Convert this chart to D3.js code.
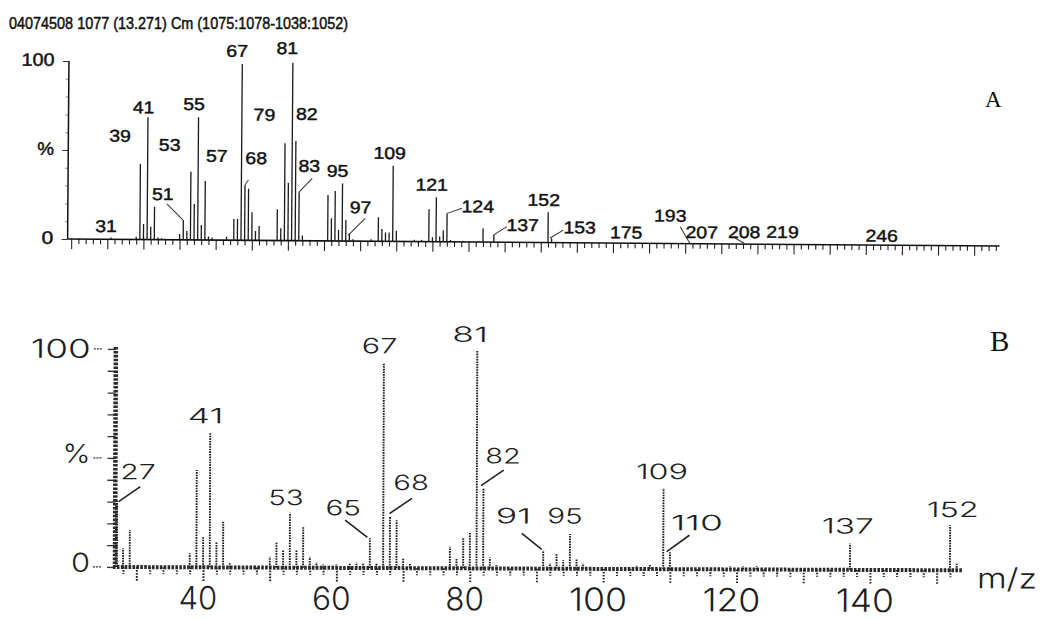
<!DOCTYPE html>
<html><head><meta charset="utf-8">
<script src="https://cdn.jsdelivr.net/npm/d3@7"></script>
<style>body{margin:0;background:#fff}svg{display:block}</style>
</head><body>
<svg id="c" width="1042" height="619"></svg>
<script>
// ---------------- DATA ----------------
const titleA = "04074508 1077 (13.271) Cm (1075:1078-1038:1052)";
const massesA = [31,38,39,40,41,42,43,44,45,50,51,52,53,54,55,56,57,58,59,63,65,66,67,68,69,70,71,72,77,78,79,80,81,82,83,84,91,92,93,94,95,96,97,98,103,105,106,107,108,109,110,115,117,119,120,121,122,123,124,125,134,137,152,153];
const intensA = [1,1.5,42.4,8.8,68.7,7.3,18.5,1.2,0.8,3.3,11.2,5,38.3,20.2,68.9,8.4,33.2,2,1.5,2,11.9,11.9,99,31.1,29,15.8,5.3,8.1,17.6,6.9,54.7,32.5,100,56,27.2,3,25.8,12.8,28.1,6.2,32.4,11.8,4.3,1,1.2,13.5,7,5,5,42.5,6,1,1,18.2,2.5,25,3,6.5,16,1,7.8,4,17,2.5];
const labelsA = [31,39,41,51,53,55,57,67,68,79,81,82,83,95,97,109,121,124,137,152,153,175,193,207,208,219,246];
const yTickTextA = ["100","%","0"];

const massesB = [27,28,29,38,39,40,41,42,43,44,50,51,52,53,54,55,56,57,58,60,62,63,64,65,66,67,68,69,70,71,77,78,79,80,81,82,83,84,91,92,93,94,95,96,97,105,107,109,110,119,121,123,137,152,153];
const intensB = [30.3,8.6,17,6.4,44.6,14,61.5,11.8,21,2,5,11.9,8,25.2,8,18.8,5,2.5,1.5,1.5,2,2.5,2,13.6,2,94.2,23.5,22,4.5,2,9.9,4.7,14.2,16.5,100,36.7,5,1.5,8.5,2.5,6.7,3.9,15.9,4.4,2.5,1.5,2,37.1,7.8,1.5,1.5,1.5,12.1,20.6,3];
const labelsB = [27,41,53,65,67,68,81,82,91,95,109,110,137,152];
const xTickLabelsB = [40,60,80,100,120,140];
const yTickTextB = ["100","%","0"];
const axisNameB = "m/z";
const panelNames = ["A","B"];

// ---------------- LAYOUT (label offsets) ----------------
const labelLayoutA = {31:[-5,4.1],39:[-20.5,54.9],41:[-4.5,70.9],51:[-20.7,22.3],53:[-21.4,50],55:[-4.6,73],57:[11.4,44],
  67:[-5.2,103.1],68:[11,42.9],79:[-20.8,67.3],81:[-5.7,104.8],82:[10.7,67.9],83:[10.1,38.8],95:[-5.1,36.1],97:[11,15.7],
  109:[-3.6,46.3],121:[-4.7,28.7],124:[30.7,16.7],137:[28.7,6.4],152:[-4.5,20.6],153:[28,5.3],175:[-5,2.7],193:[-26,12.3],
  207:[-44.9,3.1],208:[-6.2,3.4],219:[-7.5,3.6],246:[-5.8,1.9]};
const leaderLayoutA = {51:[-16.5,20.1,-0.5,11.2],68:[3.4,33.9,0,31.1],83:[13,35.1,-0.4,27.2],97:[15.7,12.9,-1,3.4],
  124:[14.9,18.9,0.2,16],137:[12.9,8.8,-0.5,4],153:[11.7,7.1,-1.6,2.6],193:[-16,9.5,-6,0],208:[-17.2,4.1,-3.5,-0.5]};
const labelLayoutB = {27:[21.2,40.3],41:[-4.7,66.1],53:[-3.9,28.7],65:[-26.8,24.1],67:[-4.4,98.5],68:[21,35.8],
  81:[-7.3,103.9],82:[19.4,48.2],91:[-29.9,20.7],95:[-5.1,20.8],109:[-1.6,41.3],110:[26.8,17.9],137:[-2.4,16.7],152:[2.6,24.4]};
const leaderLayoutB = {27:[23.7,36.9,2,30],65:[-24.8,21.9,-2.5,14],68:[21.9,32,-0.5,25],82:[20.2,45.1,-2.4,38],
  91:[-21.5,16.1,-1.5,8.8],110:[19.4,15.6,-3.2,8]};

// ---------------- DRAW ----------------
const svg = d3.select("#c");
svg.append("rect").attr("width",1042).attr("height",619).attr("fill","#fff");

function txt(g, s, x, y, o){
  const len = o.len;
  const x0 = o.anchor==="end" ? x-len : (o.anchor==="start" ? x : x-len/2);
  const t = g.append("text").attr("x",x0).attr("y",y)
    .attr("font-family",o.family).attr("font-size",o.size).attr("fill",o.fill||"#111")
    .attr("textLength",len).attr("lengthAdjust","spacingAndGlyphs").text(s);
  if(o.weight) t.attr("font-weight",o.weight);
  if(o.stroke) t.attr("stroke",o.fill||"#111").attr("stroke-width",o.stroke);
  return t;
}

// Panel A
const xA = d3.scaleLinear([19,277],[67.6,999.5]);
const yA = d3.scaleLinear([0,100],[239,61]);
const fA = "'Liberation Sans', Arial, sans-serif";

txt(svg, titleA, 9, 29, {family:fA,size:17,len:339,anchor:"start",stroke:0.5});

const gA = svg.append("g").attr("transform","rotate(0.431,68,239)");
// x ticks
gA.append("g").attr("transform",`translate(0,${yA(0)})`)
  .call(d3.axisBottom(xA).tickValues(d3.range(20,277,2).filter(m=>m%10!==0)).tickSize(5).tickFormat(""))
  .call(g=>g.select(".domain").remove());
gA.append("g").attr("transform",`translate(0,${yA(0)})`)
  .call(d3.axisBottom(xA).tickValues(d3.range(20,277,10)).tickSize(10).tickFormat(""))
  .call(g=>g.select(".domain").remove());
gA.selectAll(".tick line").attr("stroke","#222").attr("stroke-width",1.1);
gA.append("line").attr("x1",xA(19)).attr("x2",xA(277)).attr("y1",yA(0)).attr("y2",yA(0)).attr("stroke","#111").attr("stroke-width",1.6);
// y axis
const yax = gA.append("g").attr("transform",`translate(${xA(19)},0)`)
  .call(d3.axisLeft(yA).tickValues(d3.range(10,100,10)).tickSize(3).tickFormat(""));
yax.select(".domain").remove();
yax.selectAll(".tick line").attr("stroke","#888");
const yax2 = gA.append("g").attr("transform",`translate(${xA(19)},0)`)
  .call(d3.axisLeft(yA).tickValues([0,50,100]).tickSize(6).tickFormat(""));
yax2.select(".domain").remove();
yax2.selectAll(".tick line").attr("stroke","#333");
gA.append("line").attr("x1",xA(19)).attr("x2",xA(19)).attr("y1",yA(100)).attr("y2",yA(0)).attr("stroke","#111").attr("stroke-width",1.5);
[[100,33],[50,16.7],[0,11.7]].forEach((d,i)=>{
  txt(gA, yTickTextA[i], 53.3, yA(d[0])+5, {family:fA,size:18,len:d[1],anchor:"end",stroke:0.45});
});
// bars
gA.selectAll("line.barA").data(massesA.map((m,i)=>[m,intensA[i]])).join("line").attr("class","barA")
  .attr("x1",d=>xA(d[0])).attr("x2",d=>xA(d[0])).attr("y1",yA(0)).attr("y2",d=>yA(d[1]))
  .attr("stroke","#1a1a1a").attr("stroke-width",1.3);
// leaders
Object.entries(leaderLayoutA).forEach(([m,l])=>{
  m=+m;
  gA.append("line").attr("x1",xA(m)+l[0]).attr("y1",yA(l[1])).attr("x2",xA(m)+l[2]).attr("y2",yA(l[3]))
    .attr("stroke","#333").attr("stroke-width",1);
});
// labels
labelsA.forEach(m=>{
  const [dx,p] = labelLayoutA[m];
  const s = String(m);
  txt(gA, s, xA(m)+dx, yA(p), {family:fA,size:17,len:s.length*10.8,stroke:0.45});
});

// Panel B
const xB = d3.scaleLinear([26.5,153.5],[113,960]);
const yB = d3.scaleLinear([0,100],[567,349]);
const fB = "Inter, 'DejaVu Sans', sans-serif";
const wB = 300;
const gB = svg.append("g").attr("transform","rotate(0.224,115,567)");

// x ticks
const bx1 = gB.append("g").attr("transform",`translate(0,${yB(0)})`)
  .call(d3.axisBottom(xB).tickValues(d3.range(28,154,2).filter(m=>m%10!==0)).tickSize(7).tickFormat(""));
const bx2 = gB.append("g").attr("transform",`translate(0,${yB(0)})`)
  .call(d3.axisBottom(xB).tickValues(d3.range(30,154,10)).tickSize(15).tickFormat(""));
[bx1,bx2].forEach(g=>{g.select(".domain").remove(); g.selectAll(".tick line").attr("stroke","#222").attr("stroke-width",2).attr("stroke-dasharray","1.6,1.4");});
// y ticks
const by1 = gB.append("g").attr("transform",`translate(${xB(26.5)+2},0)`)
  .call(d3.axisLeft(yB).tickValues(d3.range(0,101,10)).tickSize(8).tickFormat(""));
by1.select(".domain").remove();
by1.selectAll(".tick line").attr("stroke","#333").attr("stroke-width",1.3);
[0,50,100].forEach(v=>{
  gB.append("line").attr("x1",93).attr("x2",101).attr("y1",yB(v)).attr("y2",yB(v)).attr("stroke","#333").attr("stroke-width",1.3).attr("stroke-dasharray","2,1");
});
// bars
gB.selectAll("line.barB").data(massesB.map((m,i)=>[m,intensB[i]])).join("line").attr("class","barB")
  .attr("x1",d=>xB(d[0])).attr("x2",d=>xB(d[0])).attr("y1",yB(0)).attr("y2",d=>yB(d[1]))
  .attr("stroke","#1a1a1a").attr("stroke-width",d=>d[0]===27?3:1.9).attr("stroke-dasharray","1.6,1");
// axes lines (chain style)
gB.append("line").attr("x1",xB(26.5)).attr("x2",xB(153.5)+2).attr("y1",yB(0)).attr("y2",yB(0))
  .attr("stroke","#2a2a2a").attr("stroke-width",4).attr("stroke-dasharray","2.6,1.3");
gB.append("line").attr("x1",xB(26.5)+2).attr("x2",xB(26.5)+2).attr("y1",yB(100)-2).attr("y2",yB(0))
  .attr("stroke","#2a2a2a").attr("stroke-width",4.5).attr("stroke-dasharray","2.6,1.3");
// leaders
Object.entries(leaderLayoutB).forEach(([m,l])=>{
  m=+m;
  gB.append("line").attr("x1",xB(m)+l[0]).attr("y1",yB(l[1])).attr("x2",xB(m)+l[2]).attr("y2",yB(l[3]))
    .attr("stroke","#222").attr("stroke-width",1.6);
});
// peak labels
labelsB.forEach(m=>{
  const [dx,p] = labelLayoutB[m];
  const s = String(m);
  txt(gB, s, xB(m)+dx, yB(p), {family:fB,size:21,len:s.length*16.7+2,fill:"#1e1e1e",weight:wB});
});
// y tick labels
[[100,60],[50,28],[0,19]].forEach((d,i)=>{
  txt(gB, yTickTextB[i], 90, yB(d[0])+(i===0?9:5), {family:fB,size:26,len:d[1],anchor:"end",fill:"#1e1e1e",weight:wB});
});
// x tick labels
xTickLabelsB.forEach(v=>{
  const s = String(v);
  txt(gB, s, xB(v)-5, 609, {family:fB,size:32,len:s.length*19.3,fill:"#1e1e1e",weight:wB});
});
txt(gB, axisNameB, 977, 585, {family:fB,size:28,len:60,anchor:"start",fill:"#1e1e1e",weight:wB});

// panel letters
const fS = "'Liberation Serif', 'Times New Roman', serif";
svg.append("text").attr("x",985).attr("y",107).attr("font-family",fS).attr("font-size",23).attr("fill","#111").text(panelNames[0]);
svg.append("text").attr("x",990).attr("y",351).attr("font-family",fS).attr("font-size",29).attr("fill","#111").text(panelNames[1]);
</script>
</body></html>
